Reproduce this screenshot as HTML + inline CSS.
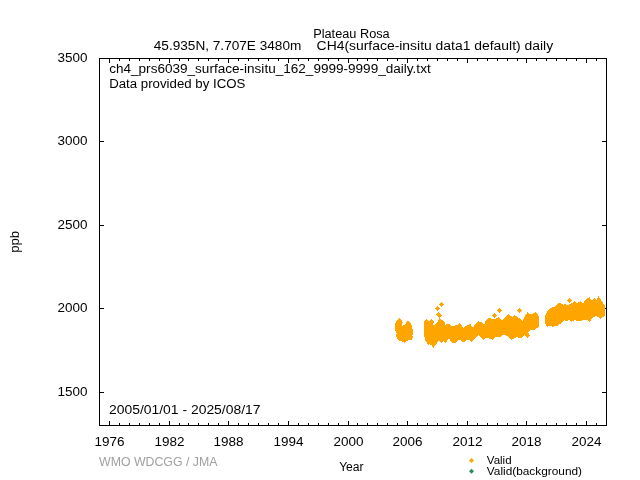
<!DOCTYPE html>
<html><head><meta charset="utf-8"><style>
html,body{margin:0;padding:0;background:#fff;width:640px;height:480px;overflow:hidden}
svg{display:block;will-change:transform}
text{-webkit-font-smoothing:antialiased}
text{font-family:"Liberation Sans", sans-serif}
</style></head><body>
<svg width="640" height="480" viewBox="0 0 640 480">
<rect width="640" height="480" fill="#fff"/>
<path d="M99.5 58.5H606.5V425.5H99.5ZM109.5 426v-5M109.5 58v5M119.5 426v-3M119.5 58v3M129.5 426v-3M129.5 58v3M139.5 426v-3M139.5 58v3M149.5 426v-3M149.5 58v3M159.5 426v-3M159.5 58v3M169.5 426v-5M169.5 58v5M179.5 426v-3M179.5 58v3M188.5 426v-3M188.5 58v3M198.5 426v-3M198.5 58v3M208.5 426v-3M208.5 58v3M218.5 426v-3M218.5 58v3M228.5 426v-5M228.5 58v5M238.5 426v-3M238.5 58v3M248.5 426v-3M248.5 58v3M258.5 426v-3M258.5 58v3M268.5 426v-3M268.5 58v3M278.5 426v-3M278.5 58v3M288.5 426v-5M288.5 58v5M298.5 426v-3M298.5 58v3M308.5 426v-3M308.5 58v3M318.5 426v-3M318.5 58v3M328.5 426v-3M328.5 58v3M338.5 426v-3M338.5 58v3M348.5 426v-5M348.5 58v5M357.5 426v-3M357.5 58v3M367.5 426v-3M367.5 58v3M377.5 426v-3M377.5 58v3M387.5 426v-3M387.5 58v3M397.5 426v-3M397.5 58v3M407.5 426v-5M407.5 58v5M417.5 426v-3M417.5 58v3M427.5 426v-3M427.5 58v3M437.5 426v-3M437.5 58v3M447.5 426v-3M447.5 58v3M457.5 426v-3M457.5 58v3M467.5 426v-5M467.5 58v5M477.5 426v-3M477.5 58v3M487.5 426v-3M487.5 58v3M497.5 426v-3M497.5 58v3M507.5 426v-3M507.5 58v3M517.5 426v-3M517.5 58v3M526.5 426v-5M526.5 58v5M536.5 426v-3M536.5 58v3M546.5 426v-3M546.5 58v3M556.5 426v-3M556.5 58v3M566.5 426v-3M566.5 58v3M576.5 426v-3M576.5 58v3M586.5 426v-5M586.5 58v5M596.5 426v-3M596.5 58v3M99 141.5h5M607 141.5h-5M99 225.5h5M607 225.5h-5M99 308.5h5M607 308.5h-5M99 392.5h5M607 392.5h-5" stroke="#000" stroke-width="1" fill="none" shape-rendering="crispEdges"/>
<g fill="#ffa500" shape-rendering="crispEdges">
<polygon points="399.5,318 400.3,319 401.3,320 402,321 402.7,323 402,324 402,326 404.3,325.2 406.3,324 406,323 407.3,321.3 408.3,320.7 409.7,322 411,323.7 412,325.7 412.3,327.3 412,328.7 412.7,329.7 412.7,334 412.3,335.3 412.7,336.7 412.3,338.7 411.3,340 410,340.7 408.7,340 407.3,340.7 406.3,341.7 404.7,343.3 403,342 401.3,341 400,341.3 398.7,340.3 397.3,339 396.7,337.3 396,335.3 396.7,333.7 395.7,332 395,330 395,325.7 395.7,324 395,323.3 396,322 397,320.3 398.3,319"/>
<polygon points="424.1,321.5 426.4,319.25 428.25,321.1 429.7,320.8 431.25,319.25 433.9,321.9 433.1,324.5 435,324.9 437.25,322.6 438,321.1 439.1,319.25 441.4,319.6 444,320.75 445.6,325 447.7,323.4 450.8,325 452.9,326.6 456.6,325 460.2,323.1 463.3,328.1 465.9,326 470.1,324 473.2,327.6 475.8,323.4 478.4,321.35 482.1,321.9 484.1,325.5 485.7,320.3 489.4,317.7 493,319.3 496.1,318.75 498.7,317.2 502.3,320.2 505.5,316.7 508.4,314 512.2,316.9 514.5,315 518.7,317.8 522.5,320.6 525.3,315 527.6,312.2 530.9,314.5 535.6,312 538,314 538.9,317.3 538.9,327.2 534.7,329.5 530.9,330 528.1,332.3 530,335.6 527.6,338 524.8,334.7 520.6,338.4 517.3,337 511.7,339.8 508.4,336.6 505.6,335.1 502.4,335.4 499.25,337.5 495.6,337 492.5,339.6 488.8,338.5 486.2,338 483.6,339.6 481,337.5 478.4,335.4 474.8,339.1 471.6,341.7 469.6,340.1 466.5,339.6 463.3,342.7 460.2,339.6 458.1,340.1 455,343.2 452.4,342.7 448.75,338.5 445.6,343.2 444,341 441.75,342.9 440.6,342.1 438.75,341 437.25,342.5 435.75,344.75 433.5,347.75 430.9,344.75 429.4,344 428.25,344.75 426.75,342.9 425.25,340.25 425.25,338 424.1,336.5"/>
<polygon points="545.2,316 546.8,312 549.3,309.1 552.7,307.4 555.2,306.2 559.3,302.8 563.5,304.5 565.6,304 567.7,305.3 571,303.7 574.5,301 577,303.5 580.5,301 583,303.5 585.5,300 589.5,297 592,301 594.5,298 596.5,300 598.5,296 600.5,299 601.5,301 604.5,305 605,315.5 600.5,318.5 598,317 595.5,316 592,318.5 589.5,322.5 586.5,319.5 581.5,320.5 578,321.5 576,320.3 574.3,319.9 571.4,322.4 569.3,319.5 566.8,321.6 564.75,319.9 562.7,322 559.75,324.1 556.8,326.2 552.7,326.6 549.3,325.75 547.25,327.4 545.2,323.7"/>
<path d="M438.80 304.50L441.50 301.80L444.20 304.50L441.50 307.20ZM434.80 308.50L437.50 305.80L440.20 308.50L437.50 311.20ZM435.80 314.50L438.50 311.80L441.20 314.50L438.50 317.20ZM436.80 315.50L439.50 312.80L442.20 315.50L439.50 318.20ZM491.80 315.50L494.50 312.80L497.20 315.50L494.50 318.20ZM496.80 310.50L499.50 307.80L502.20 310.50L499.50 313.20ZM516.80 310.50L519.50 307.80L522.20 310.50L519.50 313.20ZM566.80 300.50L569.50 297.80L572.20 300.50L569.50 303.20ZM439 317h1v3h-1Z"/>
</g>
<g>
<text x="313.2" y="37.8" font-size="12" text-anchor="start" fill="#000" textLength="76.5" lengthAdjust="spacingAndGlyphs">Plateau Rosa</text>
<text x="153.8" y="49.5" font-size="12" text-anchor="start" fill="#000" textLength="147.5" lengthAdjust="spacingAndGlyphs">45.935N, 7.707E 3480m</text>
<text x="316.6" y="49.5" font-size="12" text-anchor="start" fill="#000" textLength="236.5" lengthAdjust="spacingAndGlyphs">CH4(surface-insitu data1 default) daily</text>
<text x="109.2" y="72.7" font-size="12" text-anchor="start" fill="#000" textLength="321.5" lengthAdjust="spacingAndGlyphs">ch4_prs6039_surface-insitu_162_9999-9999_daily.txt</text>
<text x="109.2" y="87.6" font-size="12" text-anchor="start" fill="#000" textLength="136.2" lengthAdjust="spacingAndGlyphs">Data provided by ICOS</text>
<text x="109.0" y="413.8" font-size="12" text-anchor="start" fill="#000" textLength="151.5" lengthAdjust="spacingAndGlyphs">2005/01/01 - 2025/08/17</text>
<text x="87.5" y="62" font-size="12" text-anchor="end" fill="#000" textLength="30" lengthAdjust="spacingAndGlyphs">3500</text>
<text x="87.5" y="145" font-size="12" text-anchor="end" fill="#000" textLength="30" lengthAdjust="spacingAndGlyphs">3000</text>
<text x="87.5" y="229" font-size="12" text-anchor="end" fill="#000" textLength="30" lengthAdjust="spacingAndGlyphs">2500</text>
<text x="87.5" y="312" font-size="12" text-anchor="end" fill="#000" textLength="30" lengthAdjust="spacingAndGlyphs">2000</text>
<text x="87.5" y="396" font-size="12" text-anchor="end" fill="#000" textLength="30" lengthAdjust="spacingAndGlyphs">1500</text>
<text x="109.5" y="446" font-size="12" text-anchor="middle" fill="#000" textLength="30" lengthAdjust="spacingAndGlyphs">1976</text>
<text x="169.5" y="446" font-size="12" text-anchor="middle" fill="#000" textLength="30" lengthAdjust="spacingAndGlyphs">1982</text>
<text x="228.5" y="446" font-size="12" text-anchor="middle" fill="#000" textLength="30" lengthAdjust="spacingAndGlyphs">1988</text>
<text x="288.5" y="446" font-size="12" text-anchor="middle" fill="#000" textLength="30" lengthAdjust="spacingAndGlyphs">1994</text>
<text x="348.5" y="446" font-size="12" text-anchor="middle" fill="#000" textLength="30" lengthAdjust="spacingAndGlyphs">2000</text>
<text x="407.5" y="446" font-size="12" text-anchor="middle" fill="#000" textLength="30" lengthAdjust="spacingAndGlyphs">2006</text>
<text x="467.5" y="446" font-size="12" text-anchor="middle" fill="#000" textLength="30" lengthAdjust="spacingAndGlyphs">2012</text>
<text x="526.5" y="446" font-size="12" text-anchor="middle" fill="#000" textLength="30" lengthAdjust="spacingAndGlyphs">2018</text>
<text x="586.5" y="446" font-size="12" text-anchor="middle" fill="#000" textLength="30" lengthAdjust="spacingAndGlyphs">2024</text>
<text x="99" y="465.8" font-size="12" text-anchor="start" fill="#a0a0a0" textLength="118.5" lengthAdjust="spacingAndGlyphs">WMO WDCGG / JMA</text>
<text x="351.4" y="470.8" font-size="12" text-anchor="middle" fill="#000" textLength="24.5" lengthAdjust="spacingAndGlyphs">Year</text>
<text x="486.8" y="464" font-size="11" text-anchor="start" fill="#000" textLength="24.8" lengthAdjust="spacingAndGlyphs">Valid</text>
<text x="486.8" y="474.5" font-size="11" text-anchor="start" fill="#000" textLength="95.2" lengthAdjust="spacingAndGlyphs">Valid(background)</text>
<text x="0" y="0" font-size="12" text-anchor="middle" transform="translate(18.7 241.8) rotate(-90)" textLength="22" lengthAdjust="spacingAndGlyphs">ppb</text>
</g>
<path d="M469.00 460.50L471.50 458.00L474.00 460.50L471.50 463.00Z" fill="#ffa500"/>
<path d="M469.00 471.30L471.50 468.80L474.00 471.30L471.50 473.80Z" fill="#2e8b57"/>
</svg>
</body></html>
